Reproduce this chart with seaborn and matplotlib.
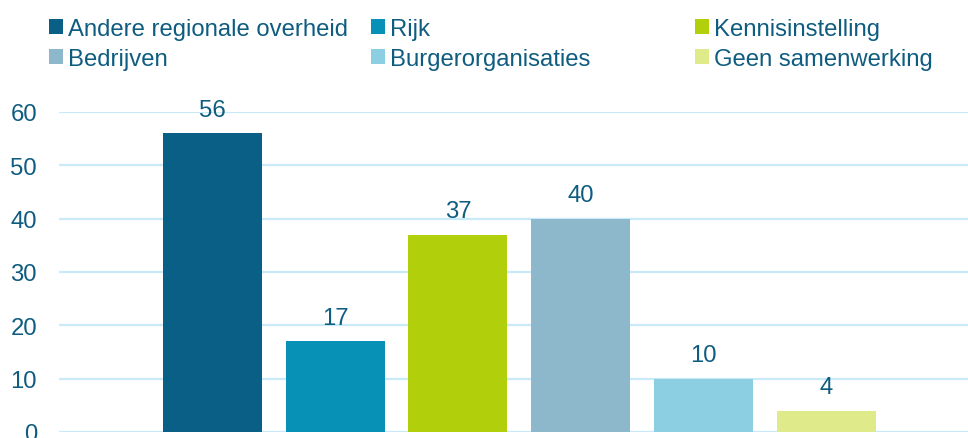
import matplotlib
matplotlib.use("Agg")
import matplotlib.pyplot as plt
from matplotlib.patches import Patch
import seaborn as sns

# --- data ---
categories = ["Andere regionale overheid", "Rijk", "Kennisinstelling",
              "Bedrijven", "Burgerorganisaties", "Geen samenwerking"]
values = [56, 17, 37, 40, 10, 4]
colors = ["#0A5F87", "#0891B6", "#B2CF0B", "#8DB8CC", "#8CCFE2", "#DFEB8B"]
yticks = [0, 10, 20, 30, 40, 50, 60]

TEXT = "#0E5C80"
GRID = "#C8EAF9"
FS = 17.2

sns.set_theme(style="white")
plt.rcParams["font.family"] = ["Liberation Sans", "DejaVu Sans"]

fig = plt.figure(figsize=(9.68, 4.39), dpi=100)
ax = fig.add_axes([59 / 968, 6 / 439, 909 / 968, 320 / 439])

sns.barplot(x=categories, y=values, hue=categories, palette=colors,
            saturation=1, width=0.807, linewidth=0, legend=False, ax=ax,
            zorder=3)

for cont in ax.containers:
    ax.bar_label(cont, padding=9, fontsize=FS, color=TEXT)

ax.set_xlim(-1.251, 6.157)
ax.set_ylim(0, 60)
ax.set_yticks(yticks)
ax.set_xticks([])
ax.set_xlabel("")
ax.set_ylabel("")
ax.tick_params(axis="y", labelsize=FS, labelcolor=TEXT, length=0, pad=15.8)
ax.yaxis.grid(True, color=GRID, linewidth=1.6, zorder=0)
ax.set_axisbelow(True)
sns.despine(ax=ax, left=True, bottom=True)

# legend: three columns placed like the original
cols = [[0, 3], [1, 4], [2, 5]]
xpos = [49, 371, 695]
for idx, x in zip(cols, xpos):
    handles = [Patch(facecolor=colors[i], edgecolor="none") for i in idx]
    leg = fig.legend(handles, [categories[i] for i in idx],
                     loc="upper left", bbox_to_anchor=(x / 968, 1 - 19 / 439),
                     frameon=False, fontsize=FS, handlelength=0.58,
                     handleheight=0.58, handletextpad=0.2, borderpad=0,
                     borderaxespad=0, labelspacing=0.32, labelcolor=TEXT)

fig.savefig("out.png", dpi=100)
